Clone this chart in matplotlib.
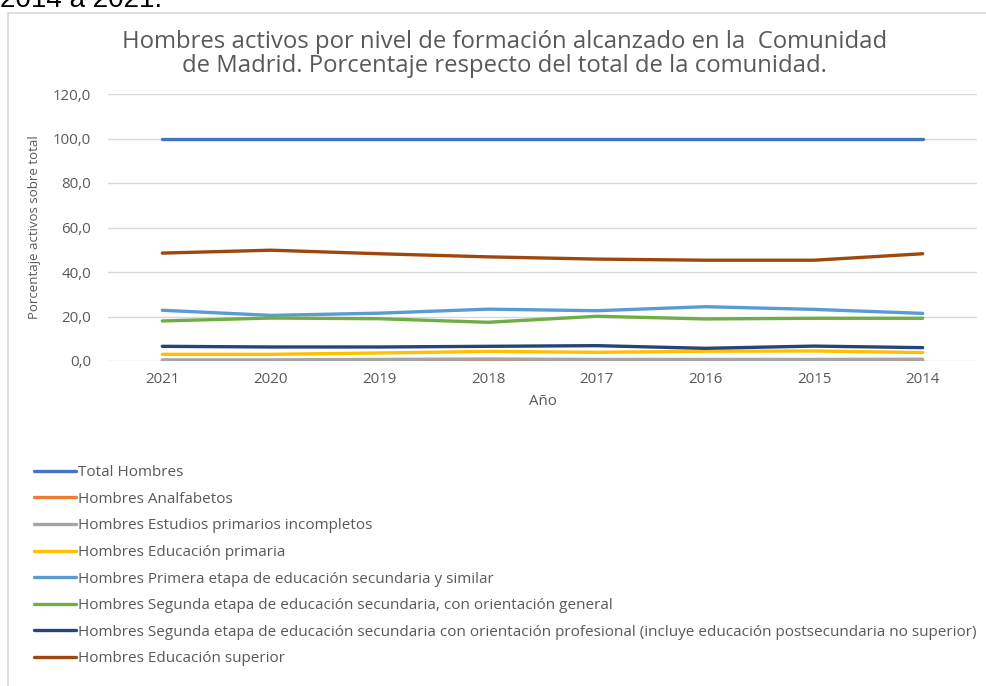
import matplotlib
matplotlib.use("Agg")
import matplotlib.pyplot as plt
from matplotlib.patches import Rectangle

plt.rcParams['font.family'] = ['Open Sans', 'DejaVu Sans']

years = ['2021', '2020', '2019', '2018', '2017', '2016', '2015', '2014']

total = [100.0, 100.0, 100.0, 100.0, 100.0, 100.0, 100.0, 100.0]
analfabetos = [0.1, 0.1, 0.2, 0.2, 0.2, 0.2, 0.2, 0.2]
primarios_incompletos = [0.5, 0.5, 0.7, 0.9, 0.7, 0.7, 0.7, 0.8]
primaria = [3.0, 3.0, 3.6, 4.3, 3.9, 4.4, 4.5, 3.8]
primera_etapa = [22.8, 20.5, 21.5, 23.3, 22.6, 24.4, 23.2, 21.4]
segunda_general = [18.0, 19.3, 19.0, 17.4, 20.1, 18.9, 19.2, 19.2]
segunda_profesional = [6.6, 6.3, 6.3, 6.6, 6.9, 5.7, 6.7, 6.0]
superior = [48.5, 49.8, 48.2, 46.8, 45.8, 45.3, 45.3, 48.2]

series = [
    ('Total Hombres', total, '#4472C4'),
    ('Hombres Analfabetos', analfabetos, '#ED7D31'),
    ('Hombres Estudios primarios incompletos', primarios_incompletos, '#A5A5A5'),
    ('Hombres Educación primaria', primaria, '#FFC000'),
    ('Hombres Primera etapa de educación secundaria y similar', primera_etapa, '#5B9BD5'),
    ('Hombres Segunda etapa de educación secundaria, con orientación general', segunda_general, '#70AD47'),
    ('Hombres Segunda etapa de educación secundaria con orientación profesional '
     '(incluye educación postsecundaria no superior)', segunda_profesional, '#264478'),
    ('Hombres Educación superior', superior, '#9E480E'),
]

W, H = 987, 686
fig = plt.figure(figsize=(W / 100, H / 100), dpi=100)

# chart area border (cut off by the screenshot on right and bottom)
fig.patches.append(Rectangle((8 / W, -0.1), 1.2, 1.1 - 13 / H, transform=fig.transFigure,
                             fill=False, edgecolor='#d9d9d9', linewidth=1.2))
# leftover text from the document above the chart, mostly cut off
fig.text(0.0, 1 - 7 / H, '2014 a 2021.', family='Liberation Sans', fontsize=20,
         color='black', va='baseline', ha='left')

ax = fig.add_axes([108 / W, 1 - 361 / H, 869 / W, 267 / H])
x = list(range(len(years)))
lines = []
for label, vals, color in series:
    ln, = ax.plot(x, vals, color=color, linewidth=2.4, label=label,
                  solid_capstyle='round', solid_joinstyle='round')
    lines.append(ln)

ax.set_xlim(-0.5, len(years) - 0.5)
ax.set_ylim(0, 120)
ax.set_yticks(range(0, 121, 20))
ax.set_yticklabels([f'{v:.1f}'.replace('.', ',') for v in range(0, 121, 20)])
ax.set_xticks(x)
ax.set_xticklabels(years)
ax.grid(axis='y', color='#d9d9d9', linewidth=1)
ax.set_axisbelow(True)
for s in ax.spines.values():
    s.set_visible(False)
ax.tick_params(length=0, colors='#595959', labelsize=10.8)
ax.tick_params(axis='y', pad=12)
ax.tick_params(axis='x', pad=8)

ax.set_ylabel('Porcentaje activos sobre total', fontsize=9.5, color='#595959', labelpad=9)
ax.set_xlabel('Año', fontsize=10.8, color='#595959', labelpad=5)

fig.text(0.5 + 11 / W, 1 - 54 / H,
         'Hombres activos por nivel de formación alcanzado en la  Comunidad\n'
         'de Madrid. Porcentaje respecto del total de la comunidad.',
         ha='center', va='center', fontsize=17.2, color='#595959', linespacing=1.0)

fig.legend(handles=lines, loc='upper left', bbox_to_anchor=(28 / W, 1 - 459 / H),
           frameon=False, fontsize=11.0, handlelength=2.75, handletextpad=0.15,
           labelspacing=0.76, borderaxespad=0, labelcolor='#595959')

fig.savefig('out.png', dpi=100)
